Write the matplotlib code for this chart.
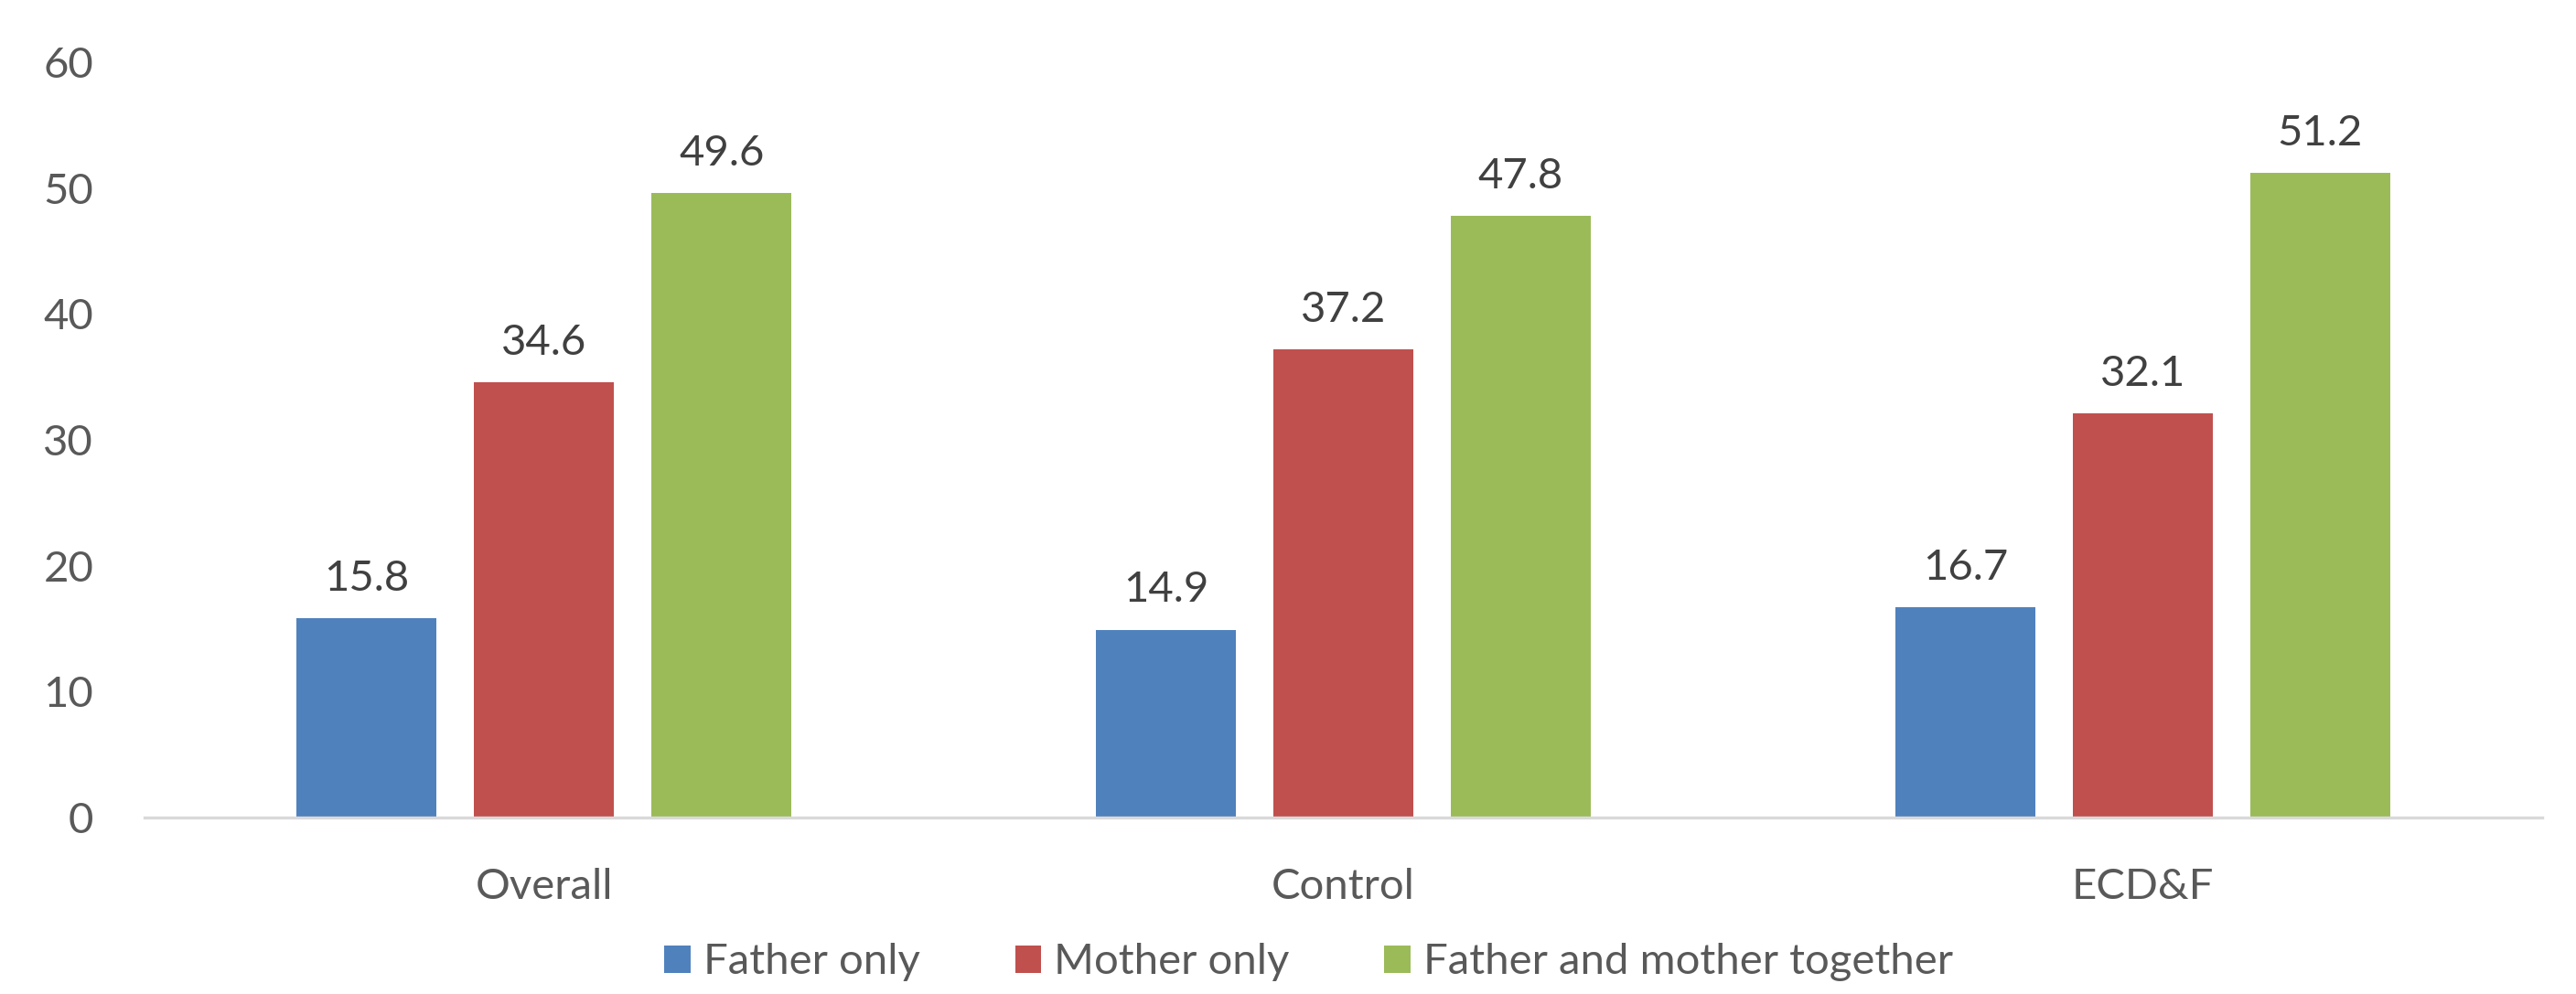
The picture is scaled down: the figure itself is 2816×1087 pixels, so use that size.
import numpy as np
import matplotlib
matplotlib.use("Agg")
from matplotlib import pyplot as plt

groups = ["Overall", "Control", "ECD&F"]
series = ["Father only", "Mother only", "Father and mother together"]
father_only = [15.8, 14.9, 16.7]
mother_only = [34.6, 37.2, 32.1]
both_together = [49.6, 47.8, 51.2]

COLORS = ["#4F81BD", "#C0504D", "#9BBB59"]  # office blue / red / green

plt.rcParams['font.family'] = ['Lato', 'Open Sans', 'DejaVu Sans']

fig = plt.figure(figsize=(14.08, 5.435), dpi=200)
ax = fig.add_axes([0.056, 0.178, 0.931, 0.759])

x = np.arange(len(groups))
width = 0.175
step = 0.222
for i, (vals, name) in enumerate(zip([father_only, mother_only, both_together], series)):
    pos = x + (i - 1) * step
    bars = ax.bar(pos, vals, width, color=COLORS[i], label=name, zorder=2)
    for b, v in zip(bars, vals):
        ax.annotate(f"{v:.1f}", (b.get_x() + b.get_width() / 2, v),
                    xytext=(0, 8), textcoords="offset points",
                    ha="center", va="bottom", fontsize=17, color="#404040")

ax.set_xlim(-0.5, 2.5)
ax.set_ylim(0, 60)
ax.set_yticks(range(0, 61, 10))
ax.set_xticks(x)
ax.set_xticklabels(groups)
ax.tick_params(axis="both", length=0, labelsize=17, labelcolor="#595959")
ax.tick_params(axis="x", pad=20)
ax.tick_params(axis="y", pad=20)
for s in ["top", "right", "left"]:
    ax.spines[s].set_visible(False)
ax.spines["bottom"].set_color("#D9D9D9")
ax.spines["bottom"].set_linewidth(1.2)

leg = fig.legend(loc="center", bbox_to_anchor=(0.508, 0.032), ncol=3, frameon=False,
                 fontsize=17, handlelength=0.6, handleheight=0.6, handletextpad=0.3,
                 columnspacing=2.2)
for t in leg.get_texts():
    t.set_color("#595959")

fig.savefig("out.png", dpi=200)
